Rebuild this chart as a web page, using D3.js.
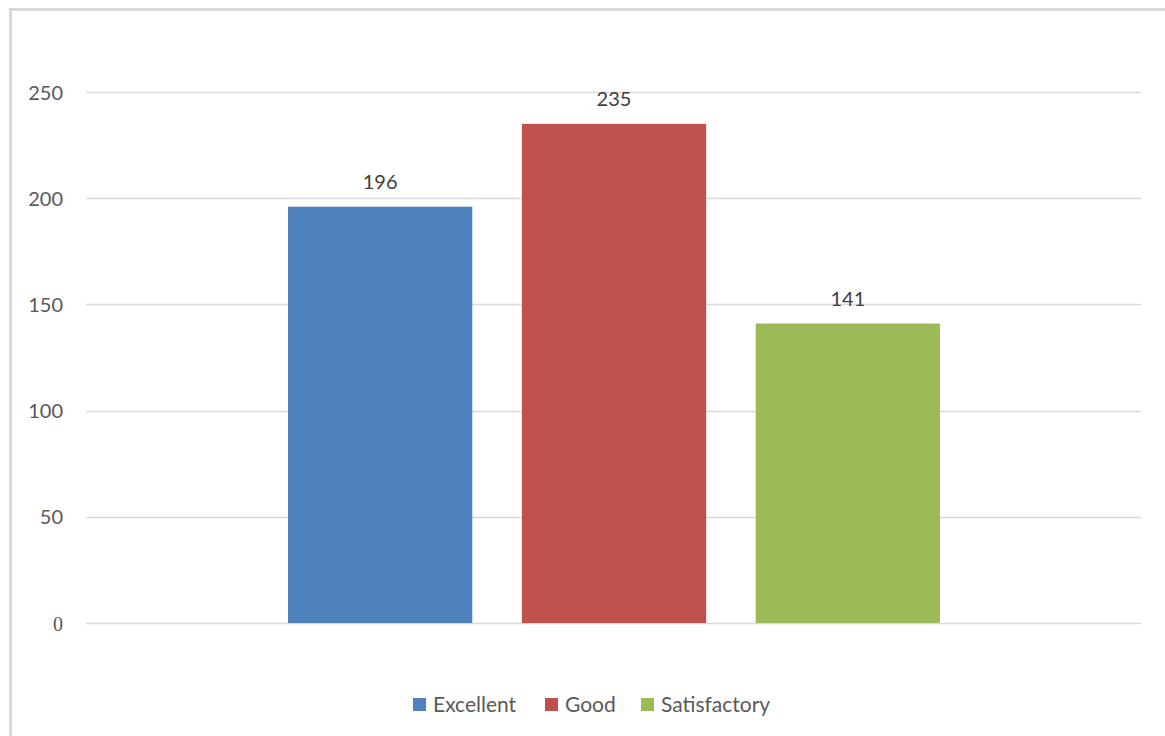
<!DOCTYPE html>
<html><head><meta charset="utf-8">
<script src="https://cdn.jsdelivr.net/npm/d3@7"></script>
<style>html,body{margin:0;padding:0;background:#fff;}</style>
</head><body>
<svg id="c" width="1165" height="736"></svg>
<script>
const categories = ["Excellent", "Good", "Satisfactory"];
const values = [196, 235, 141];
const colors = ["#4f81bd", "#c0504d", "#9bbb59"];
const yTicks = [0, 50, 100, 150, 200, 250];

const svg = d3.select("#c");
const font = "Lato, 'Open Sans', sans-serif";
const textColor = "#595959";

// chart border
svg.append("rect").attr("x", 10.5).attr("y", 9.5).attr("width", 1170).attr("height", 740)
  .attr("fill", "none").attr("stroke", "#d9d9d9").attr("stroke-width", 3);

const plotL = 86, plotR = 1141;
const y = d3.scaleLinear().domain([0, 250]).range([623, 92]);
const x = d3.scaleBand().domain(categories).range([288, 940]).paddingInner(0.212).paddingOuter(0);

// gridlines
svg.append("g").selectAll("line").data(yTicks).join("line")
  .attr("x1", plotL).attr("x2", plotR)
  .attr("y1", d => Math.round(y(d)) + 0.5).attr("y2", d => Math.round(y(d)) + 0.5)
  .attr("stroke", "#d9d9d9").attr("stroke-width", 1.3);

// y axis labels
const yAxis = d3.axisLeft(y).tickValues(yTicks).tickSize(0).tickPadding(0);
const gA = svg.append("g").attr("transform", "translate(63,0)").call(yAxis);
gA.select(".domain").remove();
gA.selectAll("text").attr("font-family", d => d === 0 ? "'Liberation Serif', serif" : font)
  .attr("font-size", 20).attr("fill", textColor).attr("dy", "0.35em");

// bars
svg.append("g").selectAll("rect").data(categories).join("rect")
  .attr("x", d => x(d)).attr("width", x.bandwidth())
  .attr("y", (d, i) => y(values[i])).attr("height", (d, i) => y(0) - y(values[i]))
  .attr("fill", (d, i) => colors[i]);

// value labels
svg.append("g").selectAll("text").data(categories).join("text")
  .attr("x", d => x(d) + x.bandwidth() / 2)
  .attr("y", (d, i) => y(values[i]) - 18)
  .attr("text-anchor", "middle").attr("font-family", font).attr("font-size", 20)
  .attr("fill", "#404040").text((d, i) => values[i]);

// legend
const legendX = [413, 545, 641];
const lg = svg.append("g").selectAll("g").data(categories).join("g")
  .attr("transform", (d, i) => `translate(${legendX[i]},698)`);
lg.append("rect").attr("width", 13).attr("height", 13).attr("fill", (d, i) => colors[i]);
lg.append("text").attr("x", 20).attr("y", 6.5).attr("dy", "0.35em")
  .attr("font-family", font).attr("font-size", 21).attr("fill", textColor).text(d => d);
</script>
</body></html>
